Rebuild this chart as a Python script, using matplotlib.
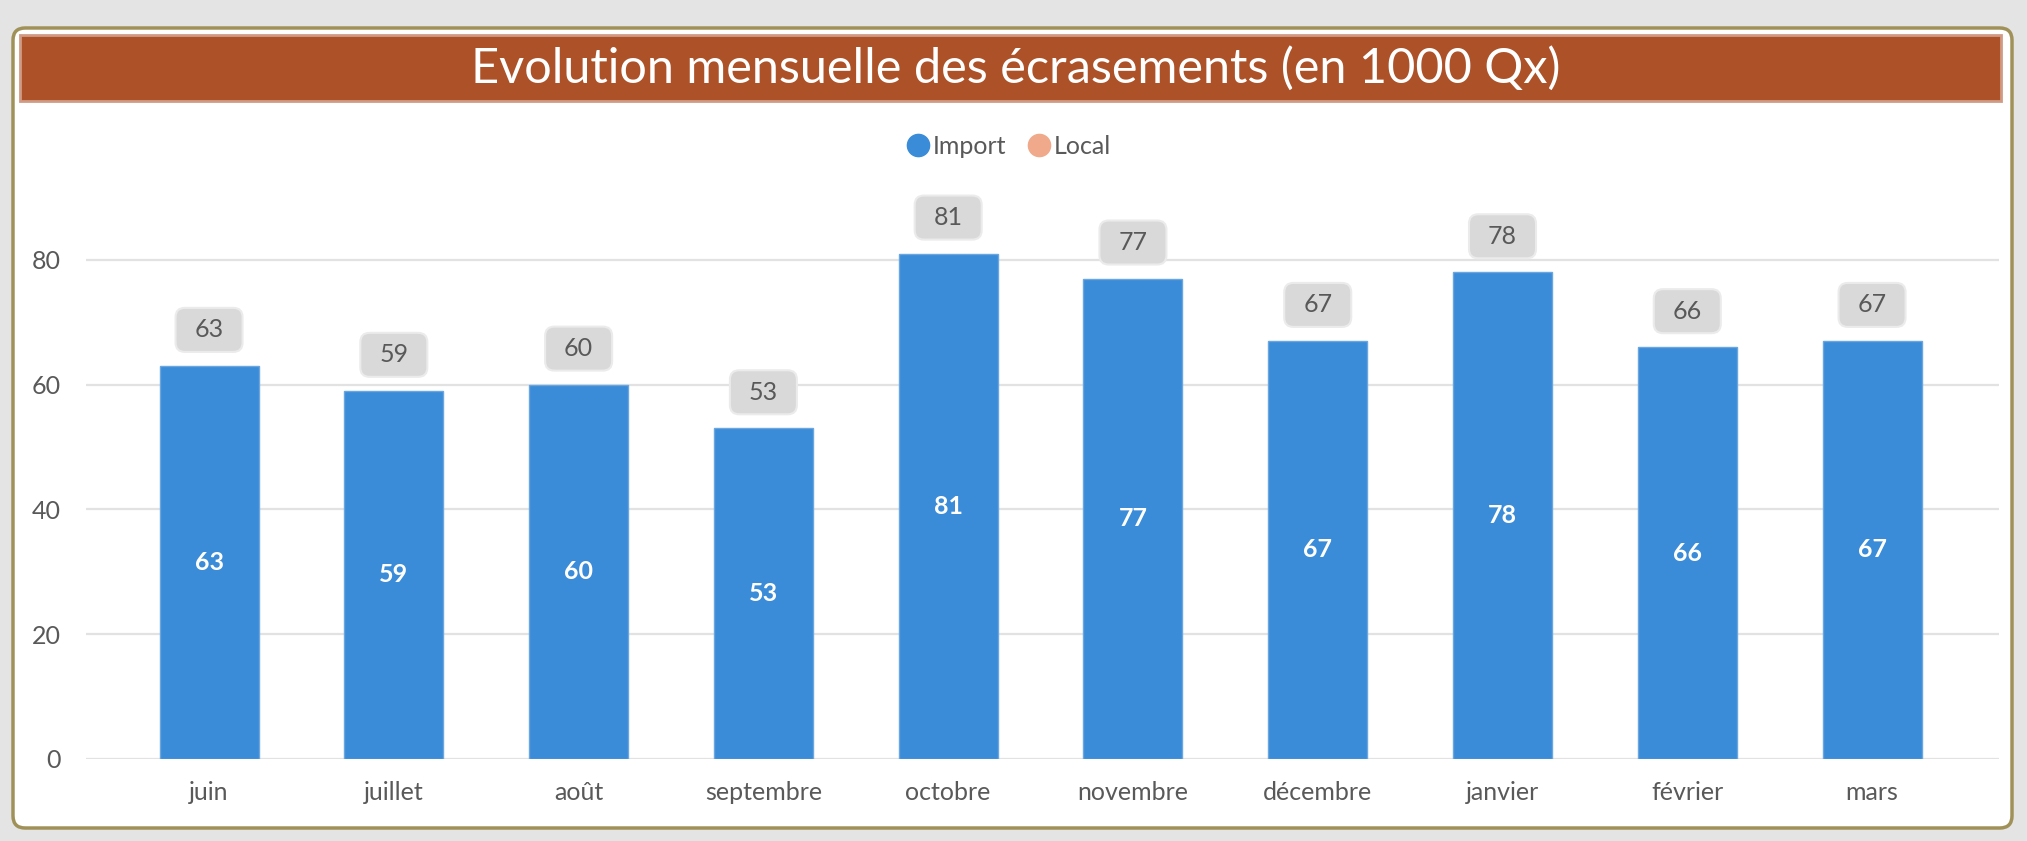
import matplotlib
matplotlib.use("Agg")
import matplotlib.pyplot as plt
from matplotlib.patches import FancyBboxPatch, Rectangle
from matplotlib.lines import Line2D

plt.rcParams['font.family'] = ['Lato', 'DejaVu Sans']

months = ['juin', 'juillet', 'août', 'septembre', 'octobre', 'novembre',
          'décembre', 'janvier', 'février', 'mars']
import_vals = [63, 59, 60, 53, 81, 77, 67, 78, 66, 67]
local_vals = [0, 0, 0, 0, 0, 0, 0, 0, 0, 0]
title = 'Evolution mensuelle des écrasements (en 1000 Qx)'

blue = '#3A8BD8'
orange = '#F0A98A'
grey_txt = '#595959'

W, H = 2027, 841
fig = plt.figure(figsize=(W / 100, H / 100), dpi=100)
fig.patch.set_facecolor('#E4E4E4')

# outer white card with rounded corners
card = FancyBboxPatch((13 / W, 1 - 828 / H), (2012 - 13) / W, (828 - 28) / H,
                      boxstyle='round,pad=0,rounding_size=0.006',
                      mutation_aspect=W / H,
                      transform=fig.transFigure, facecolor='white',
                      edgecolor='#A09158', linewidth=2.5, zorder=-2)
fig.patches.append(card)

# title band
band = Rectangle((20 / W, 1 - 101 / H), (2001 - 20) / W, (101 - 35) / H,
                 transform=fig.transFigure, facecolor='#AD5128',
                 edgecolor='#D09A85', linewidth=2, zorder=-1)
fig.patches.append(band)
fig.text(1016 / W, 1 - 68 / H, title, color='white', fontsize=35,
         ha='center', va='center')

# plot area
ax = fig.add_axes([86 / W, 1 - 759 / H, (1999 - 86) / W, 561.6 / H])
ax.set_facecolor('none')
x = list(range(len(months)))
ax.bar(x, import_vals, width=0.536, color=blue, edgecolor='#6AA6E0',
       linewidth=1, zorder=3)
ax.bar(x, local_vals, bottom=import_vals, width=0.536, color=orange, zorder=3)

ax.set_xlim(-0.666, 9.687)
ax.set_ylim(0, 90)
ax.set_yticks([0, 20, 40, 60, 80])
ax.yaxis.grid(True, color='#E2E2E2', linewidth=1.6, zorder=0)
ax.set_axisbelow(True)
for s in ax.spines.values():
    s.set_visible(False)
ax.tick_params(length=0, labelsize=18, labelcolor=grey_txt)
ax.tick_params(axis='y', pad=18)
ax.tick_params(axis='x', pad=16)
ax.set_xticks(x)
ax.set_xticklabels(months)

# labels: white inside, grey box above
px_x = 184.8
px_y = 561.6 / 90
bw, bh = 67 / px_x, 44 / px_y
for xi, v in zip(x, import_vals):
    ax.text(xi, v / 2, str(v), color='white', fontsize=18, fontweight='bold',
            ha='center', va='center', zorder=4)
    yc = v + 36 / px_y
    box = FancyBboxPatch((xi - bw / 2, yc - bh / 2), bw, bh,
                         boxstyle='round,pad=0,rounding_size=0.05',
                         mutation_aspect=px_x / px_y,
                         facecolor='#D9D9D9', edgecolor='#EBEBEB',
                         linewidth=1.5, zorder=4, clip_on=False)
    ax.add_patch(box)
    ax.text(xi, yc, str(v), color=grey_txt, fontsize=18, ha='center',
            va='center', zorder=5, clip_on=False)

# legend
handles = [Line2D([], [], marker='o', linestyle='none', markersize=16,
                  markerfacecolor=blue, markeredgecolor=blue, label='Import'),
           Line2D([], [], marker='o', linestyle='none', markersize=16,
                  markerfacecolor=orange, markeredgecolor=orange, label='Local')]
fig.legend(handles=handles, loc='center', bbox_to_anchor=(1008 / W, 1 - 146 / H),
           ncol=2, frameon=False, fontsize=18, labelcolor=grey_txt,
           handletextpad=0.1, columnspacing=0.8, handlelength=1.0)

fig.savefig('out.png', dpi=100, facecolor=fig.get_facecolor())
